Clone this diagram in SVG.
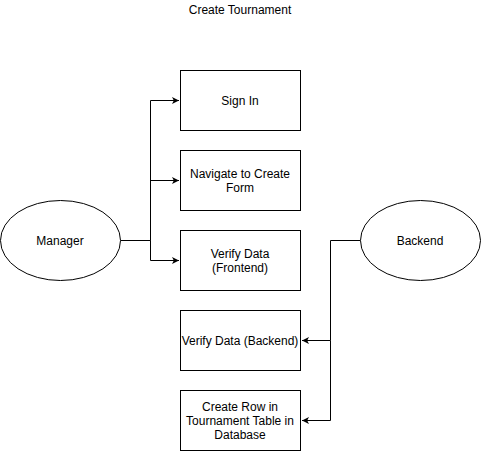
<svg xmlns="http://www.w3.org/2000/svg" width="481" height="451" viewBox="0 0 481 451">
<style>
.s{fill:#fff;stroke:#000;stroke-width:1}
.t{font-family:"Liberation Sans",Arial,sans-serif;font-size:12px;fill:#000;text-anchor:middle}
.c{fill:none;stroke:#000;stroke-width:1}
</style>
<defs>
<marker id="a" markerWidth="8" markerHeight="8" refX="7" refY="4" orient="auto" markerUnits="userSpaceOnUse">
<path d="M0,0.5 L7,4 L0,7.5 L1.8,4 Z" fill="#000"/>
</marker>
</defs>
<rect width="481" height="451" fill="#fff"/>
<text class="t" x="240" y="14">Create Tournament</text>
<g id="connectors">
<path class="c" d="M120.5,240.5 H150.5 V100.5 H179" marker-end="url(#a)"/>
<path class="c" d="M150.5,240.5 V180.5 H179" marker-end="url(#a)"/>
<path class="c" d="M150.5,240.5 V260.5 H179" marker-end="url(#a)"/>
<path class="c" d="M360.5,240.5 H330.5 V340.5 H302" marker-end="url(#a)"/>
<path class="c" d="M330.5,340.5 V420.5 H302" marker-end="url(#a)"/>
</g>
<g id="manager">
<ellipse class="s" cx="60.5" cy="240.5" rx="60" ry="40"/>
<text class="t" x="60" y="244.5">Manager</text>
</g>
<g id="backend">
<ellipse class="s" cx="420.5" cy="240.5" rx="60" ry="40"/>
<text class="t" x="420" y="244.5">Backend</text>
</g>
<g id="signin">
<rect class="s" x="180.5" y="70.5" width="120" height="60"/>
<text class="t" x="240" y="104.5">Sign In</text>
</g>
<g id="navigate">
<rect class="s" x="180.5" y="150.5" width="120" height="60"/>
<text class="t" x="240" y="177.5">Navigate to Create</text>
<text class="t" x="240" y="191.5">Form</text>
</g>
<g id="verifyfront">
<rect class="s" x="180.5" y="230.5" width="120" height="60"/>
<text class="t" x="240" y="257.5">Verify Data</text>
<text class="t" x="240" y="271.5">(Frontend)</text>
</g>
<g id="verifyback">
<rect class="s" x="180.5" y="310.5" width="120" height="60"/>
<text class="t" x="240" y="344.5">Verify Data (Backend)</text>
</g>
<g id="createrow">
<rect class="s" x="180.5" y="390.5" width="120" height="60"/>
<text class="t" x="240" y="410.5">Create Row in</text>
<text class="t" x="240" y="424.5">Tournament Table in</text>
<text class="t" x="240" y="438.5">Database</text>
</g>
</svg>
